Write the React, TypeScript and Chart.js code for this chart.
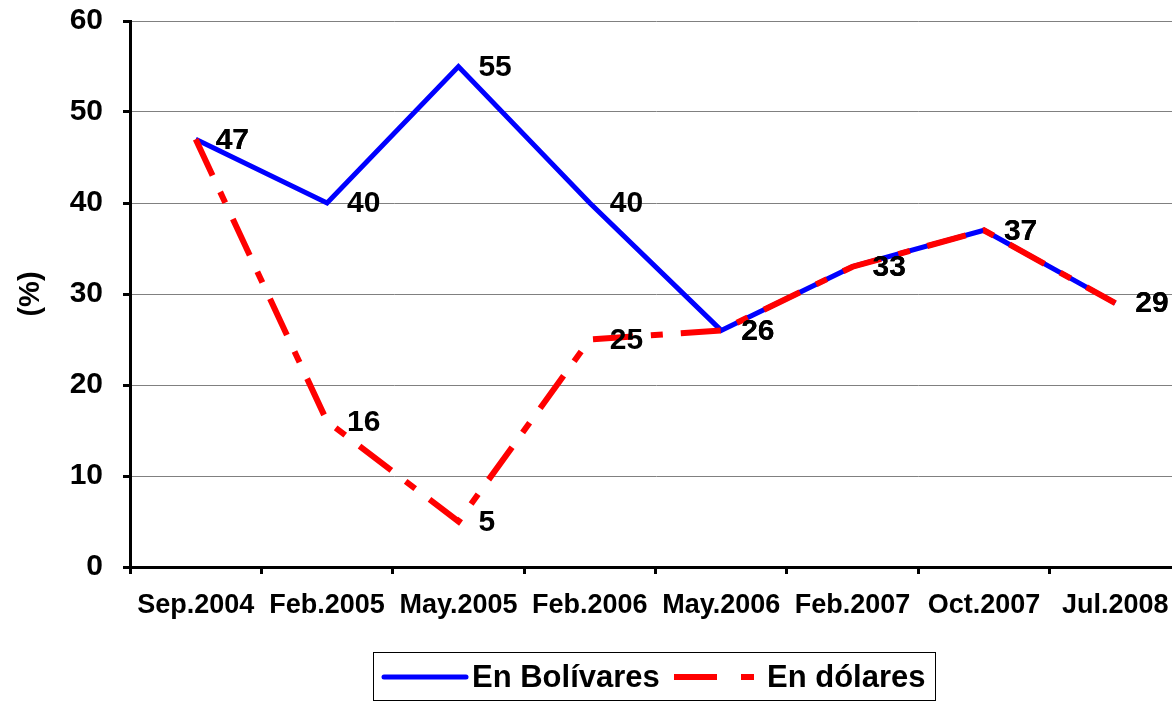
import React, { useEffect, useRef } from "react";
import { Chart, registerables } from "chart.js";

Chart.register(...registerables);

const categories = ["Sep.2004", "Feb.2005", "May.2005", "Feb.2006", "May.2006", "Feb.2007", "Oct.2007", "Jul.2008"];
const bolivares = [47, 40, 55, 40, 26, 33, 37, 29];
const dolares = [47, 16, 5, 25, 26, 33, 37, 29];
const seriesNames = ["En Bolívares", "En dólares"];
const yTitle = "(%)";

const FONT = "'Liberation Sans', Arial, sans-serif";

const valueLabels = {
  id: "valueLabels",
  afterDatasetsDraw(chart: any) {
    const ctx = chart.ctx;
    ctx.save();
    ctx.font = `bold 30px ${FONT}`;
    ctx.fillStyle = "#000";
    ctx.textAlign = "left";
    ctx.textBaseline = "middle";
    chart.data.datasets.forEach((ds: any, i: number) => {
      const meta = chart.getDatasetMeta(i);
      meta.data.forEach((el: any, j: number) => {
        ctx.fillText(String(ds.data[j]), el.x + 20, el.y + 1);
      });
    });
    ctx.restore();
  },
};

const boxLegend = {
  id: "boxLegend",
  afterDraw(chart: any) {
    const ctx = chart.ctx;
    const ds = chart.data.datasets;
    ctx.save();
    const left = 373, top = 652, right = 935, bottom = 700;
    ctx.strokeStyle = "#000";
    ctx.lineWidth = 1;
    ctx.strokeRect(left + 0.5, top + 0.5, right - left, bottom - top);
    const cy = 677;
    ctx.font = `bold 31px ${FONT}`;
    ctx.fillStyle = "#000";
    ctx.textBaseline = "middle";
    ctx.textAlign = "left";
    ctx.strokeStyle = ds[0].borderColor;
    ctx.lineWidth = 5;
    ctx.lineCap = "round";
    ctx.beginPath();
    ctx.moveTo(384, cy);
    ctx.lineTo(466, cy);
    ctx.stroke();
    ctx.fillText(ds[0].label, 472, cy + 1);
    ctx.strokeStyle = ds[1].borderColor;
    ctx.lineWidth = 6;
    ctx.lineCap = "butt";
    ctx.beginPath();
    ctx.moveTo(674, cy);
    ctx.lineTo(717, cy);
    ctx.moveTo(741, cy);
    ctx.lineTo(754, cy);
    ctx.stroke();
    ctx.fillText(ds[1].label, 767, cy + 1);
    ctx.restore();
  },
};

export default function App() {
  const ref = useRef<HTMLCanvasElement>(null);
  useEffect(() => {
    document.body.style.margin = "0";
    const chart = new Chart(ref.current as HTMLCanvasElement, {
      type: "line",
      data: {
        labels: categories,
        datasets: [
          {
            label: seriesNames[0],
            data: bolivares,
            borderColor: "#0000FF",
            backgroundColor: "#0000FF",
            borderWidth: 5,
            pointRadius: 0,
            tension: 0,
            fill: false,
            borderJoinStyle: "miter",
            order: 1,
          },
          {
            label: seriesNames[1],
            data: dolares,
            borderColor: "#FF0000",
            backgroundColor: "#FF0000",
            borderWidth: 6,
            borderDash: [40, 18, 12, 18],
            borderCapStyle: "butt",
            pointRadius: 0,
            tension: 0,
            fill: false,
            borderJoinStyle: "miter",
            order: 0,
          },
        ],
      },
      options: {
        animation: false,
        responsive: false,
        devicePixelRatio: 1,
        layout: { padding: { top: 21, right: 0, bottom: 0, left: 0 } },
        plugins: {
          legend: { display: false },
          tooltip: { enabled: false },
        },
        scales: {
          x: {
            type: "category",
            offset: true,
            grid: {
              display: true,
              drawOnChartArea: false,
              color: "#000",
              lineWidth: 3,
              tickLength: 7,
              offset: true,
            },
            border: { display: true, color: "#000", width: 3 },
            ticks: {
              font: { family: FONT, size: 27, weight: "bold" },
              color: "#000",
              padding: 15,
              maxRotation: 0,
              autoSkip: false,
            },
            afterFit(scale: any) {
              scale.height = 135;
              scale.paddingLeft = 0;
              scale.paddingRight = 0;
            },
          },
          y: {
            min: 0,
            max: 60,
            grid: {
              color: "#808080",
              lineWidth: 1,
              tickColor: "#000",
              tickWidth: 3,
              tickLength: 7,
            },
            border: { display: true, color: "#000", width: 3 },
            ticks: {
              stepSize: 10,
              font: { family: FONT, size: 30, weight: "bold" },
              color: "#000",
              padding: 20,
            },
            title: {
              display: true,
              text: yTitle,
              font: { family: FONT, size: 29, weight: "bold" },
              color: "#000",
              padding: { top: 14, bottom: 0 },
            },
            afterFit(scale: any) {
              scale.width = 130;
              scale.paddingTop = 0;
              scale.paddingBottom = 0;
            },
          },
        },
      },
      plugins: [valueLabels, boxLegend],
    });
    return () => chart.destroy();
  }, []);
  return (
    <div style={{ width: 1172, height: 702, overflow: "hidden", position: "relative", background: "#fff" }}>
      <canvas ref={ref} width={1181} height={702} style={{ display: "block" }} />
    </div>
  );
}
